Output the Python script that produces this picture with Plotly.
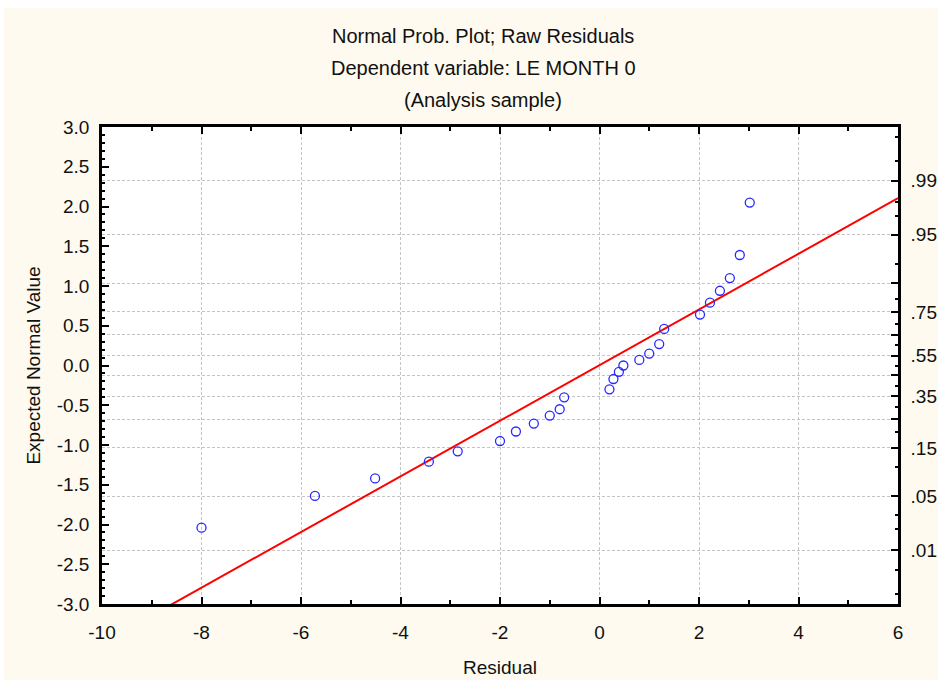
import plotly.graph_objects as go
from statistics import NormalDist

# Raw residuals and their expected normal values (sorted)
residual = [-8.00, -5.72, -4.51, -3.43, -2.85, -2.00, -1.68, -1.32, -1.00, -0.80,
            -0.71, 0.20, 0.28, 0.39, 0.48, 0.80, 1.00, 1.20, 1.30, 2.02,
            2.22, 2.42, 2.62, 2.82, 3.02]
expected = [-2.04, -1.64, -1.42, -1.21, -1.08, -0.95, -0.83, -0.73, -0.63, -0.55,
            -0.40, -0.30, -0.17, -0.08, 0.00, 0.07, 0.15, 0.27, 0.46, 0.64,
            0.79, 0.94, 1.10, 1.39, 2.05]

# Reference normal line
fit_slope = 0.35
fit_intercept = 0.005
fit_x = [-10, 6]
fit_y = [fit_intercept + fit_slope * v for v in fit_x]

# Axis ticks (plain hyphen minus signs)
x_ticks = [-10, -8, -6, -4, -2, 0, 2, 4, 6]
x_labels = ['-10', '-8', '-6', '-4', '-2', '0', '2', '4', '6']
y_ticks = [-3.0, -2.5, -2.0, -1.5, -1.0, -0.5, 0.0, 0.5, 1.0, 1.5, 2.0, 2.5, 3.0]
y_labels = ['-3.0', '-2.5', '-2.0', '-1.5', '-1.0', '-0.5', '0.0',
            '0.5', '1.0', '1.5', '2.0', '2.5', '3.0']

# Probability scale shown on the right axis
prob_levels = [.01, .05, .15, .25, .35, .45, .55, .65, .75, .85, .95, .99]
prob_labels = ['.01', '.05', '.15', '', '.35', '', '.55', '', '.75', '', '.95', '.99']
prob_minor = [.002, .005, .02, .03, .1, .2, .3, .4, .5, .6, .7, .8, .9, .97, .98, .995, .998]

nd = NormalDist()
prob_z = [nd.inv_cdf(p) for p in prob_levels]
prob_minor_z = [nd.inv_cdf(p) for p in prob_minor]

FONT = "Liberation Sans, Arial, sans-serif"
CREAM = "#FEFAEF"
GRID = "#C4C4C4"
DASH = "3px,2px"

fig = go.Figure()
fig.add_trace(go.Scatter(
    x=fit_x, y=fit_y, mode="lines",
    line=dict(color="#FF0000", width=2), hoverinfo="skip", showlegend=False))
fig.add_trace(go.Scatter(
    x=residual, y=expected, mode="markers",
    marker=dict(symbol="circle-open", size=9, color="#2828FF",
                line=dict(width=1.3, color="#2828FF")),
    showlegend=False))
# invisible trace to carry the right-hand probability axis
fig.add_trace(go.Scatter(x=[None], y=[None], yaxis="y2", showlegend=False,
                         hoverinfo="skip"))

fig.update_layout(
    width=942, height=684, autosize=False,
    margin=dict(l=102, r=44, t=127, b=80),
    paper_bgcolor="white", plot_bgcolor="white",
    font=dict(family=FONT, size=19, color="#111111"),
    xaxis=dict(
        range=[-10, 6], tickmode="array", tickvals=x_ticks, ticktext=x_labels,
        ticks="inside", ticklen=7, tickwidth=1.5, tickcolor="black",
        showline=True, linewidth=2.5, linecolor="black", mirror="ticks",
        showgrid=True, gridcolor=GRID, griddash=DASH, gridwidth=1,
        zeroline=False, ticklabelstandoff=9, automargin=False,
        minor=dict(dtick=1, tick0=-10, ticks="inside", ticklen=4,
                   tickcolor="black", showgrid=False),
        title=dict(text="Residual", standoff=20, font=dict(size=19)),
    ),
    yaxis=dict(
        range=[-3, 3], tickmode="array", tickvals=y_ticks, ticktext=y_labels,
        ticks="inside", ticklen=7, tickwidth=1.5, tickcolor="black",
        showline=True, linewidth=2.5, linecolor="black",
        showgrid=False, zeroline=False, ticklabelstandoff=6, automargin=False,
        minor=dict(dtick=0.1, tick0=-3, ticks="inside", ticklen=3,
                   tickcolor="black", showgrid=False),
        title=dict(text="Expected Normal Value", standoff=12, font=dict(size=19)),
    ),
    yaxis2=dict(
        overlaying="y", side="right", range=[-3, 3],
        tickmode="array", tickvals=prob_z, ticktext=prob_labels,
        ticks="inside", ticklen=7, tickwidth=1.5, tickcolor="black",
        showline=True, linewidth=2.5, linecolor="black",
        showgrid=True, gridcolor=GRID, griddash=DASH, gridwidth=1,
        zeroline=False, ticklabelstandoff=6, automargin=False,
        minor=dict(tickvals=prob_minor_z, ticks="inside", ticklen=3,
                   tickcolor="black", showgrid=False),
    ),
    shapes=[
        # cream panel behind the whole chart
        dict(type="rect", xref="paper", yref="paper", layer="below",
             x0=(4 - 102) / 796, x1=(938 - 102) / 796,
             y0=(604 - 680) / 477, y1=(604 - 8) / 477,
             fillcolor=CREAM, line=dict(width=0)),
        # white plotting area
        dict(type="rect", xref="paper", yref="paper", layer="below",
             x0=0, x1=1, y0=0, y1=1, fillcolor="white", line=dict(width=0)),
    ],
    annotations=[
        dict(text=t, xref="paper", yref="paper", x=(483 - 102) / 796,
             y=(604 - py) / 477, showarrow=False, xanchor="center",
             yanchor="middle", font=dict(size=20))
        for t, py in [("Normal Prob. Plot; Raw Residuals", 36),
                      ("Dependent variable: LE MONTH 0", 68),
                      ("(Analysis sample)", 100)]
    ],
)

fig.write_html("out.html")
